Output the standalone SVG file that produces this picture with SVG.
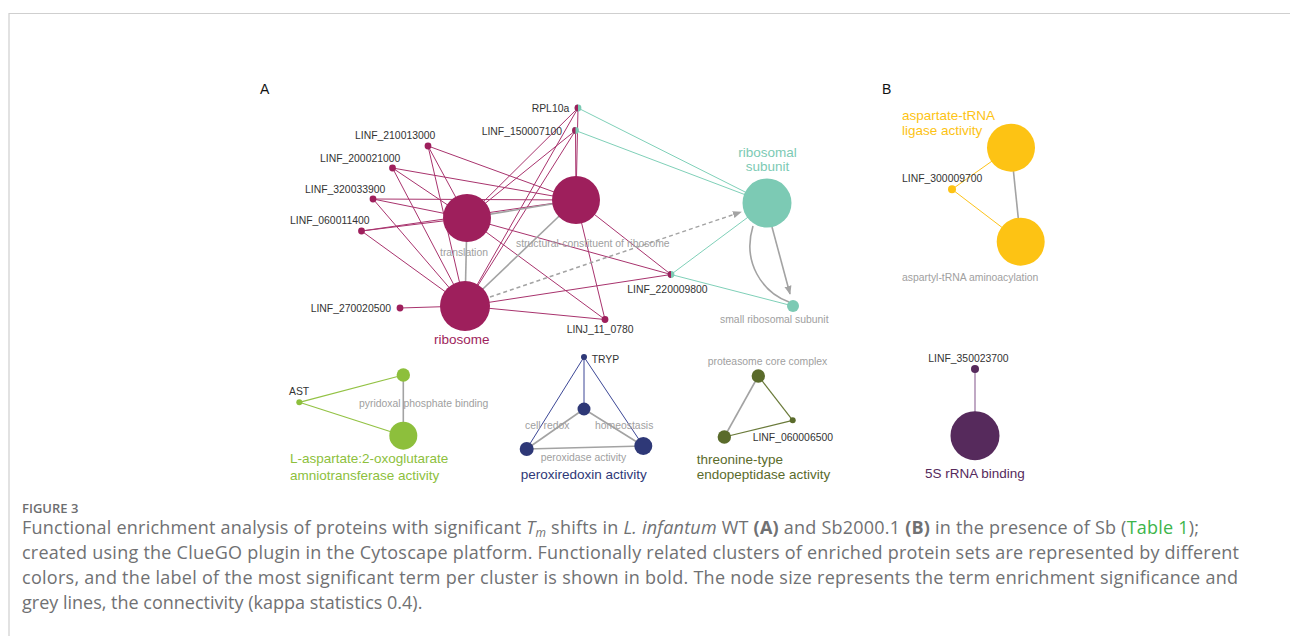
<svg xmlns="http://www.w3.org/2000/svg" width="1290" height="636" viewBox="0 0 1290 636">
<defs>
<style>
.gene{font-family:"Liberation Sans",Arial,sans-serif;font-size:10.4px;fill:#333}
.glab{font-family:"Liberation Sans",Arial,sans-serif;font-size:10.4px;fill:#a0a0a0}
.term{font-family:"Liberation Sans",Arial,sans-serif;font-size:13.5px}
.em{stroke:#a8336d;stroke-width:1;fill:none}
.et{stroke:#7fd0b8;stroke-width:1;fill:none}
.eg{stroke:#a3a3a3;stroke-width:1.6;fill:none}
.ey{stroke:#fdc31a;stroke-width:1;fill:none}
.egr{stroke:#93c244;stroke-width:1.2;fill:none}
.en{stroke:#3c4796;stroke-width:1;fill:none}
.eo{stroke:#6a7a3a;stroke-width:1.2;fill:none}
.ep{stroke:#a584ab;stroke-width:1.4;fill:none}
.mag{fill:#9e1f5c}
.teal{fill:#7ccab4}
.yel{fill:#fdc314}
.grn{fill:#8dbf3c}
.nav{fill:#2e3877}
.olv{fill:#5a6b2b}
.pur{fill:#562a5c}
.cap{font-family:"Open Sans","Liberation Sans",sans-serif;font-size:18px;fill:#707173}
</style>
<marker id="ah2" viewBox="0 0 10 10" refX="9" refY="5" markerWidth="9" markerHeight="9" orient="auto" markerUnits="userSpaceOnUse">
<path d="M0,1 L10,5 L0,9 z" fill="#a3a3a3"/>
</marker>
</defs>
<rect width="1290" height="636" fill="#ffffff"/>
<path d="M9,636 V13.5 H1290" stroke="#cfcfcf" stroke-width="1.2" fill="none"/>

<text x="260" y="94" font-family="Liberation Sans,Arial,sans-serif" font-size="14" fill="#111">A</text>
<text x="882" y="94" font-family="Liberation Sans,Arial,sans-serif" font-size="14" fill="#111">B</text>

<g id="connectors">
<line class="em" x1="428" y1="146" x2="467" y2="218"/>
<line class="em" x1="428" y1="146" x2="576" y2="200"/>
<line class="em" x1="428" y1="146" x2="465" y2="306"/>
<line class="em" x1="392.5" y1="168" x2="467" y2="218"/>
<line class="em" x1="392.5" y1="168" x2="576" y2="200"/>
<line class="em" x1="392.5" y1="168" x2="465" y2="306"/>
<line class="em" x1="373" y1="199" x2="467" y2="218"/>
<line class="em" x1="373" y1="199" x2="576" y2="200"/>
<line class="em" x1="373" y1="199" x2="465" y2="306"/>
<line class="em" x1="361.5" y1="231" x2="467" y2="218"/>
<line class="em" x1="361.5" y1="231" x2="576" y2="200"/>
<line class="em" x1="361.5" y1="231" x2="465" y2="306"/>
<line class="em" x1="400" y1="308" x2="465" y2="306"/>
<line class="em" x1="578" y1="108" x2="467" y2="218"/>
<line class="em" x1="578" y1="108" x2="465" y2="306"/>
<line class="em" x1="578" y1="108" x2="576" y2="200"/>
<line class="em" x1="575.5" y1="130.5" x2="467" y2="218"/>
<line class="em" x1="575.5" y1="130.5" x2="465" y2="306"/>
<line class="em" x1="575.5" y1="130.5" x2="576" y2="200"/>
<line class="em" x1="671" y1="274.5" x2="467" y2="218"/>
<line class="em" x1="671" y1="274.5" x2="576" y2="200"/>
<line class="em" x1="671" y1="274.5" x2="465" y2="306"/>
<line class="em" x1="605" y1="319.5" x2="467" y2="218"/>
<line class="em" x1="605" y1="319.5" x2="576" y2="200"/>
<line class="em" x1="605" y1="319.5" x2="465" y2="306"/>
<line class="et" x1="578" y1="108" x2="767" y2="203"/>
<line class="et" x1="575.5" y1="130.5" x2="767" y2="203"/>
<line class="et" x1="671" y1="274.5" x2="767" y2="203"/>
<line class="et" x1="671" y1="274.5" x2="793" y2="306"/>
<line class="eg" x1="467" y1="218" x2="465" y2="306"/>
<line class="eg" x1="467" y1="218" x2="576" y2="200"/>
<line class="eg" x1="465" y1="306" x2="576" y2="200"/>
<line x1="490" y1="297" x2="741" y2="212" stroke="#a3a3a3" stroke-width="1.5" stroke-dasharray="4,3" marker-end="url(#ah2)"/>
<line class="eg" x1="772" y1="227" x2="790" y2="294" marker-end="url(#ah2)"/>
<path class="eg" d="M753,226 C742,262 762,292 789,302"/>
<line class="ey" x1="952" y1="189.3" x2="1011" y2="147.7"/>
<line class="ey" x1="952" y1="189.3" x2="1020.7" y2="241.7"/>
<line class="eg" x1="1011" y1="147.7" x2="1020.7" y2="241.7"/>
<line class="egr" x1="299.3" y1="402.3" x2="403.3" y2="375"/>
<line class="egr" x1="299.3" y1="402.3" x2="403.3" y2="435.7"/>
<line class="eg" x1="403.3" y1="375" x2="403.3" y2="435.7"/>
<line class="en" x1="584" y1="357" x2="526.7" y2="449"/>
<line class="en" x1="584" y1="357" x2="584" y2="409"/>
<line class="en" x1="584" y1="357" x2="643.3" y2="446"/>
<line class="eg" x1="584" y1="409" x2="526.7" y2="449"/>
<line class="eg" x1="584" y1="409" x2="643.3" y2="446"/>
<line class="eg" x1="526.7" y1="449" x2="643.3" y2="446"/>
<line class="eo" x1="758.3" y1="376" x2="792.7" y2="420.3"/>
<line class="eo" x1="792.7" y1="420.3" x2="724.3" y2="437"/>
<line class="eg" x1="758.3" y1="376" x2="724.3" y2="437"/>
<line class="ep" x1="975" y1="369" x2="975" y2="435.7"/>
</g>

<g id="n-translation"><circle class="mag" cx="467" cy="218" r="24"/><text class="glab" x="464" y="256" text-anchor="middle">translation</text></g>
<g id="n-ribosome"><circle class="mag" cx="465" cy="306" r="25"/><text class="term" x="434" y="344" fill="#9e1f5c">ribosome</text></g>
<g id="n-structural"><circle class="mag" cx="576" cy="200" r="24"/><text class="glab" x="516" y="247">structural-constituent of ribosome</text></g>
<g id="n-ribosomal-subunit"><circle class="teal" cx="767" cy="203" r="24.5"/><text class="term" fill="#7ccab4" text-anchor="middle"><tspan x="767.5" y="156.5">ribosomal</tspan><tspan x="767.5" y="170.5">subunit</tspan></text></g>
<g id="n-small-ribosomal-subunit"><circle class="teal" cx="793" cy="306" r="6"/><text class="glab" x="720" y="323">small ribosomal subunit</text></g>

<g id="g-LINF_210013000"><circle class="mag" cx="428" cy="146" r="3.4"/><text class="gene" x="355" y="139">LINF_210013000</text></g>
<g id="g-LINF_200021000"><circle class="mag" cx="392.5" cy="168" r="3.4"/><text class="gene" x="320" y="162">LINF_200021000</text></g>
<g id="g-LINF_320033900"><circle class="mag" cx="373" cy="199" r="3.4"/><text class="gene" x="305" y="193">LINF_320033900</text></g>
<g id="g-LINF_060011400"><circle class="mag" cx="361.5" cy="231" r="3.4"/><text class="gene" x="290" y="224">LINF_060011400</text></g>
<g id="g-LINF_270020500"><circle class="mag" cx="400" cy="308" r="3.4"/><text class="gene" x="310.7" y="311.5">LINF_270020500</text></g>
<g id="g-RPL10a"><circle class="teal" cx="578" cy="108" r="3.4"/><path class="mag" d="M578,104.6 A3.4,3.4 0 0 0 578,111.4 z"/><text class="gene" x="531.7" y="111.5">RPL10a</text></g>
<g id="g-LINF_150007100"><circle class="teal" cx="575.5" cy="130.5" r="3.4"/><path class="mag" d="M575.5,127.1 A3.4,3.4 0 0 0 575.5,133.9 z"/><text class="gene" x="481.7" y="135">LINF_150007100</text></g>
<g id="g-LINF_220009800"><circle class="teal" cx="671" cy="274.5" r="3.4"/><path class="mag" d="M671,271.1 A3.4,3.4 0 0 0 671,277.9 z"/><text class="gene" x="627.3" y="293">LINF_220009800</text></g>
<g id="g-LINJ_11_0780"><circle class="mag" cx="605" cy="319.5" r="3.4"/><text class="gene" x="566.7" y="333">LINJ_11_0780</text></g>

<g id="n-aspartate-ligase"><circle class="yel" cx="1011" cy="147.7" r="24"/><text class="term" fill="#fdc314"><tspan x="902" y="120">aspartate-tRNA</tspan><tspan x="902" y="135">ligase activity</tspan></text></g>
<g id="n-aspartyl-aminoacylation"><circle class="yel" cx="1020.7" cy="241.7" r="24"/><text class="glab" x="902" y="280.5">aspartyl-tRNA aminoacylation</text></g>
<g id="g-LINF_300009700"><circle class="yel" cx="952" cy="189.3" r="4"/><text class="gene" x="902" y="182">LINF_300009700</text></g>

<g id="g-AST"><circle class="grn" cx="299.3" cy="402.3" r="3"/><text class="gene" x="289" y="394.5">AST</text></g>
<g id="n-pyridoxal"><circle class="grn" cx="403.3" cy="375" r="6.7"/><text class="glab" x="359" y="407">pyridoxal phosphate binding</text></g>
<g id="n-aspartate-aminotransferase"><circle class="grn" cx="403.3" cy="435.7" r="14"/><text class="term" fill="#8dbf3c"><tspan x="290" y="463">L-aspartate:2-oxoglutarate</tspan><tspan x="290" y="479.5">amniotransferase activity</tspan></text></g>

<g id="g-TRYP"><circle class="nav" cx="584" cy="357" r="3"/><text class="gene" x="591.7" y="363">TRYP</text></g>
<g id="n-cell-redox"><circle class="nav" cx="584" cy="409" r="6.5"/><text class="glab"><tspan x="525" y="428.5">cell redox</tspan> <tspan x="595" y="428.5">homeostasis</tspan></text></g>
<g id="n-peroxidase"><circle class="nav" cx="526.7" cy="449" r="7"/><text class="glab" x="540.7" y="461">peroxidase activity</text></g>
<g id="n-peroxiredoxin"><circle class="nav" cx="643.3" cy="446" r="9"/><text class="term" x="520.7" y="479" fill="#2e3877">peroxiredoxin activity</text></g>

<g id="n-proteasome"><circle class="olv" cx="758.3" cy="376" r="6.7"/><text class="glab" x="707.7" y="365">proteasome core complex</text></g>
<g id="g-LINF_060006500"><circle class="olv" cx="792.7" cy="420.3" r="3"/><text class="gene" x="752.7" y="441">LINF_060006500</text></g>
<g id="n-threonine"><circle class="olv" cx="724.3" cy="437" r="6.7"/><text class="term" fill="#5a6b2b"><tspan x="696.7" y="464">threonine-type</tspan><tspan x="696.7" y="479">endopeptidase activity</tspan></text></g>

<g id="g-LINF_350023700"><circle class="pur" cx="975" cy="369" r="4"/><text class="gene" x="928.3" y="362">LINF_350023700</text></g>
<g id="n-5S"><circle class="pur" cx="975" cy="435.7" r="24.5"/><text class="term" x="925" y="478" fill="#562a5c">5S rRNA binding</text></g>

<g id="caption">
<text x="22" y="513" font-family="Open Sans,Liberation Sans,sans-serif" font-size="13" font-weight="600" fill="#6d6e70">FIGURE 3</text>
<text class="cap" x="22" y="534" textLength="1177" lengthAdjust="spacing">Functional enrichment analysis of proteins with significant <tspan font-style="italic">T</tspan><tspan font-style="italic" font-size="12" dy="3">m</tspan><tspan dy="-3"> shifts in </tspan><tspan font-style="italic">L. infantum</tspan> WT <tspan font-weight="bold">(A)</tspan> and Sb2000.1 <tspan font-weight="bold">(B)</tspan> in the presence of Sb (<tspan fill="#3db54a">Table 1</tspan>);</text>
<text class="cap" x="22" y="559" textLength="1217" lengthAdjust="spacing">created using the ClueGO plugin in the Cytoscape platform. Functionally related clusters of enriched protein sets are represented by different</text>
<text class="cap" x="22" y="584" textLength="1216" lengthAdjust="spacing">colors, and the label of the most significant term per cluster is shown in bold. The node size represents the term enrichment significance and</text>
<text class="cap" x="22" y="609">grey lines, the connectivity (kappa statistics 0.4).</text>
</g>
</svg>
